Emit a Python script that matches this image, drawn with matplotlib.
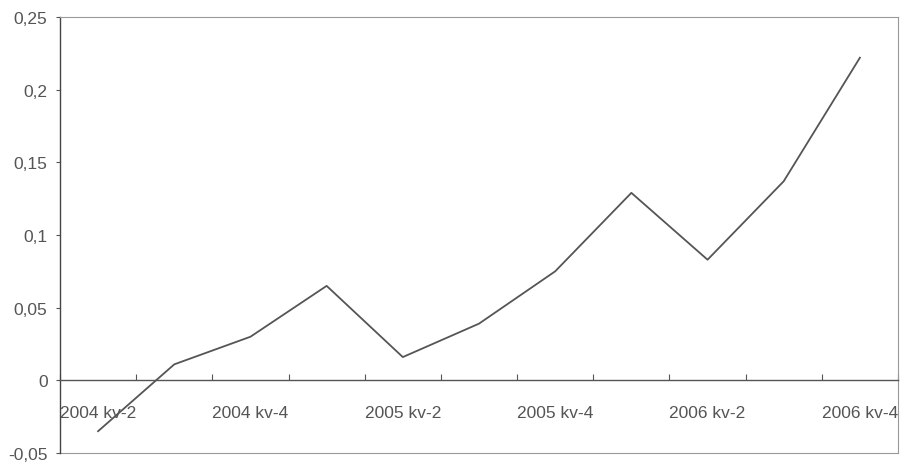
import numpy as np
import matplotlib
matplotlib.use("Agg")
import matplotlib.pyplot as plt
from matplotlib.ticker import FuncFormatter, FixedLocator

# Quarterly values
quarters = ["2004 kv-2", "2004 kv-3", "2004 kv-4", "2005 kv-1", "2005 kv-2", "2005 kv-3",
            "2005 kv-4", "2006 kv-1", "2006 kv-2", "2006 kv-3", "2006 kv-4"]
values = [-0.035, 0.011, 0.030, 0.065, 0.016, 0.039, 0.075, 0.129, 0.083, 0.137, 0.222]
yticks = [-0.05, 0, 0.05, 0.1, 0.15, 0.2, 0.25]

plt.rcParams['font.family'] = ['Liberation Sans', 'DejaVu Sans']
grey = "#555555"

fig = plt.figure(figsize=(9.01, 4.64), dpi=100)
ax = fig.add_axes([60 / 901, 1 - 454 / 464, 838 / 901, 436 / 464])

x = np.arange(len(quarters))
ax.plot(x, values, color=grey, lw=1.3)

ax.set_xlim(-0.5, len(quarters) - 0.5)
ax.set_ylim(-0.05, 0.25)

# y axis
ax.set_yticks(yticks)
ax.yaxis.set_major_formatter(FuncFormatter(lambda v, p: ("%g" % v).replace(".", ",")))
ax.tick_params(axis="y", length=3, width=0.8, color=grey, labelcolor=grey,
               labelsize=12.5, pad=6)

# x axis sits at zero, ticks between categories, labels on every other quarter
ax.spines["bottom"].set_position(("data", 0))
ax.spines["bottom"].set_color(grey)
ax.spines["bottom"].set_linewidth(1.0)
ax.xaxis.set_major_locator(FixedLocator(np.arange(-0.5, len(quarters), 1.0)))
ax.xaxis.set_minor_locator(FixedLocator(x[::2]))
ax.set_xticklabels([], minor=False)
ax.set_xticklabels(quarters[::2], minor=True)
ax.tick_params(axis="x", which="major", direction="in", length=4, width=0.8, color=grey)
ax.tick_params(axis="x", which="minor", length=0, labelcolor=grey, labelsize=12.5, pad=18)

ax.spines["left"].set_color("#444444")
ax.spines["left"].set_linewidth(1.0)
for s in ["top", "right"]:
    ax.spines[s].set_color("#999999")
    ax.spines[s].set_linewidth(0.8)
# bottom frame edge of the plot area
ax.plot([0, 1], [0, 0], transform=ax.transAxes, color="#999999", lw=0.8, clip_on=False)

fig.savefig("out.png", dpi=100)
